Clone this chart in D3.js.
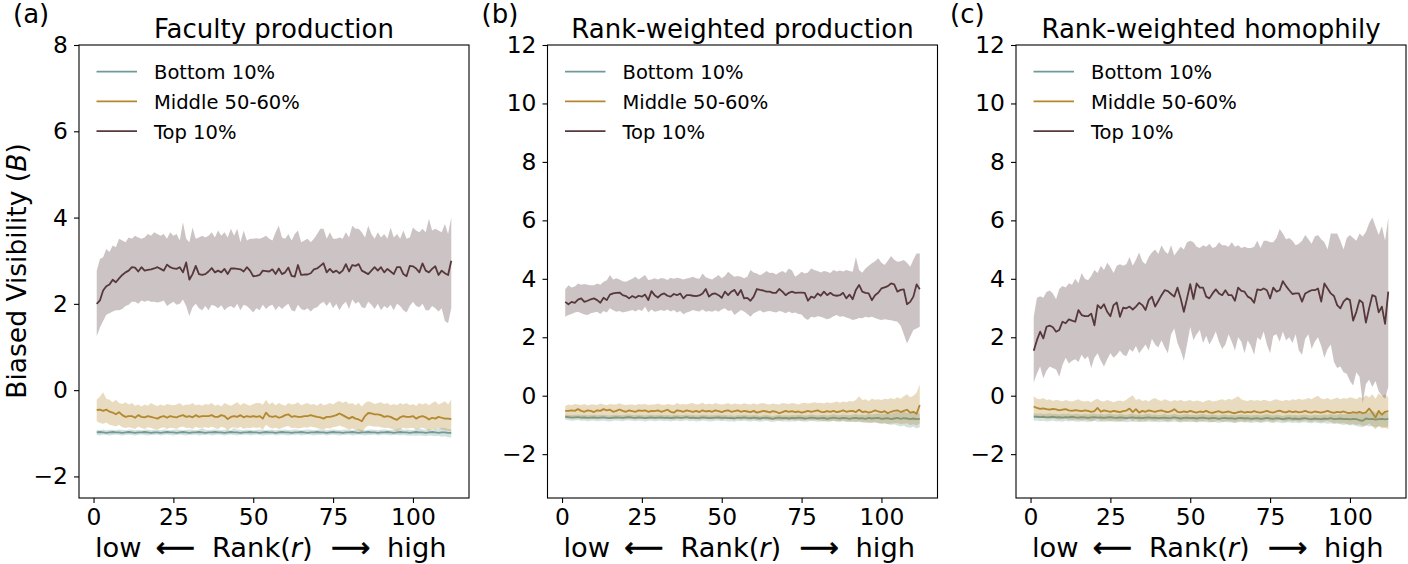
<!DOCTYPE html>
<html>
<head>
<meta charset="utf-8">
<script src="https://cdn.jsdelivr.net/npm/d3@7"></script>
<style>
html,body{margin:0;padding:0;background:#fff;}
svg{display:block;}
</style>
</head>
<body>
<svg id="chart" width="1408" height="564"></svg>
<script>
// ---------- DATA ----------
const seriesNames = ["Bottom 10%", "Middle 50-60%", "Top 10%"];
const panelTitles = ["Faculty production", "Rank-weighted production", "Rank-weighted homophily"];
const panelLabels = ["(a)", "(b)", "(c)"];
const xTicks = [0, 25, 50, 75, 100];
const yTicksA = [-2, 0, 2, 4, 6, 8];
const yTicksBC = [-2, 0, 2, 4, 6, 8, 10, 12];
const ranks = d3.range(1, 113);

// Panel (a) Faculty production
const aTopMean = [2.00,2.08,2.31,2.41,2.45,2.56,2.50,2.59,2.67,2.73,
2.77,2.85,2.84,2.75,2.85,2.77,2.79,2.80,2.82,2.85,
2.81,2.77,2.91,2.85,2.82,2.81,2.85,2.73,2.96,2.56,
2.69,2.88,2.69,2.67,2.69,2.75,2.83,2.73,2.77,2.73,
2.81,2.69,2.82,2.82,2.81,2.80,2.75,2.85,2.77,2.64,
2.65,2.67,2.77,2.76,2.75,2.80,2.69,2.82,2.69,2.73,
2.84,2.65,2.63,2.90,2.67,2.68,2.68,2.71,2.80,2.82,
2.88,2.94,2.73,2.81,2.73,2.77,2.71,2.77,2.92,2.75,
2.90,2.88,2.92,2.77,2.73,2.69,2.77,2.85,2.77,2.85,
2.73,2.81,2.75,2.69,2.85,2.85,2.69,2.64,2.88,2.87,
2.82,2.73,2.94,2.77,2.73,2.81,2.87,2.67,2.77,2.71,
2.67,3.00];
const aTopHi = [2.77,3.04,3.08,3.27,3.20,3.35,3.31,3.51,3.47,3.43,
3.54,3.51,3.58,3.54,3.51,3.54,3.62,3.58,3.66,3.62,
3.58,3.62,3.51,3.66,3.58,3.62,3.47,3.89,3.51,3.43,
3.77,3.51,3.54,3.58,3.54,3.58,3.66,3.54,3.70,3.58,
3.66,3.54,3.74,3.58,3.74,3.43,3.70,3.47,3.51,3.51,
3.52,3.51,3.54,3.58,3.51,3.47,3.66,3.81,3.54,3.51,
3.62,3.47,3.62,3.70,3.43,3.47,3.51,3.43,3.51,3.62,
3.74,3.74,3.51,3.66,3.51,3.51,3.54,3.51,3.66,3.54,
3.81,3.74,3.74,3.66,3.54,3.81,3.62,3.51,3.66,3.54,
3.62,3.51,3.77,3.54,3.62,3.51,3.70,3.51,3.54,3.77,
3.70,3.66,3.74,3.66,3.97,3.70,3.74,3.70,3.66,3.85,
3.62,4.01];
const aTopLo = [1.25,1.45,1.60,1.75,1.78,1.82,1.85,1.85,1.88,1.95,
1.98,2.05,2.05,2.00,2.08,2.05,2.08,2.05,2.05,2.03,
2.05,2.08,1.95,2.00,2.05,1.98,2.00,2.10,1.95,1.72,
1.92,2.00,1.90,1.85,1.95,1.85,1.98,1.95,1.90,1.97,
1.85,1.92,1.95,1.90,2.00,1.85,1.98,1.95,1.88,1.80,
1.90,1.85,1.98,1.88,1.95,1.98,1.85,1.95,1.88,1.95,
2.00,1.85,1.82,1.98,1.88,1.85,1.90,1.82,1.90,1.92,
2.00,2.05,1.95,2.05,1.90,2.00,1.85,1.98,2.05,1.88,
2.10,2.00,2.05,1.92,1.90,2.05,1.98,1.88,2.00,1.85,
1.95,1.90,1.98,1.85,2.00,1.95,1.85,1.80,1.95,2.05,
1.95,1.92,2.00,1.85,1.85,1.95,1.90,1.82,1.90,1.60,
1.55,1.90];
const aMidMean = [-0.46,-0.45,-0.48,-0.45,-0.50,-0.52,-0.56,-0.51,-0.58,-0.62,
-0.60,-0.60,-0.64,-0.58,-0.62,-0.63,-0.60,-0.62,-0.64,-0.66,
-0.62,-0.60,-0.64,-0.60,-0.62,-0.63,-0.60,-0.58,-0.62,-0.60,
-0.63,-0.58,-0.62,-0.60,-0.60,-0.60,-0.58,-0.62,-0.62,-0.58,
-0.60,-0.67,-0.62,-0.60,-0.62,-0.58,-0.63,-0.60,-0.62,-0.60,
-0.62,-0.60,-0.66,-0.52,-0.60,-0.62,-0.60,-0.64,-0.62,-0.58,
-0.56,-0.62,-0.60,-0.62,-0.62,-0.60,-0.60,-0.58,-0.60,-0.62,
-0.63,-0.66,-0.62,-0.62,-0.60,-0.58,-0.54,-0.58,-0.62,-0.66,
-0.62,-0.66,-0.68,-0.72,-0.60,-0.53,-0.54,-0.56,-0.56,-0.58,
-0.62,-0.60,-0.62,-0.66,-0.69,-0.63,-0.60,-0.62,-0.62,-0.60,
-0.66,-0.62,-0.60,-0.63,-0.68,-0.64,-0.66,-0.62,-0.64,-0.66,
-0.66,-0.67];
const aMidHi = [-0.22,-0.15,-0.05,-0.20,-0.22,-0.28,-0.22,-0.30,-0.32,-0.28,
-0.33,-0.30,-0.36,-0.33,-0.38,-0.33,-0.36,-0.30,-0.34,-0.37,
-0.33,-0.36,-0.32,-0.34,-0.35,-0.33,-0.30,-0.36,-0.33,-0.34,
-0.30,-0.35,-0.33,-0.36,-0.32,-0.34,-0.30,-0.36,-0.33,-0.38,
-0.30,-0.33,-0.36,-0.32,-0.28,-0.35,-0.30,-0.33,-0.36,-0.32,
-0.30,-0.30,-0.34,-0.22,-0.33,-0.28,-0.35,-0.30,-0.33,-0.36,
-0.30,-0.33,-0.32,-0.28,-0.35,-0.32,-0.30,-0.34,-0.32,-0.36,
-0.30,-0.35,-0.33,-0.30,-0.33,-0.28,-0.25,-0.30,-0.26,-0.32,
-0.30,-0.35,-0.30,-0.38,-0.30,-0.26,-0.28,-0.32,-0.30,-0.28,
-0.32,-0.30,-0.35,-0.32,-0.35,-0.30,-0.33,-0.30,-0.35,-0.32,
-0.36,-0.30,-0.33,-0.30,-0.35,-0.30,-0.26,-0.33,-0.30,-0.26,
-0.33,-0.22];
const aMidLo = [-0.72,-0.76,-0.78,-0.75,-0.80,-0.82,-0.84,-0.80,-0.86,-0.88,
-0.86,-0.88,-0.90,-0.85,-0.88,-0.90,-0.86,-0.88,-0.90,-0.92,
-0.88,-0.86,-0.90,-0.87,-0.88,-0.90,-0.86,-0.84,-0.88,-0.87,
-0.90,-0.85,-0.88,-0.87,-0.86,-0.88,-0.84,-0.88,-0.90,-0.85,
-0.87,-0.93,-0.88,-0.86,-0.89,-0.85,-0.90,-0.87,-0.88,-0.86,
-0.88,-0.86,-0.92,-0.80,-0.86,-0.89,-0.87,-0.90,-0.88,-0.85,
-0.83,-0.88,-0.87,-0.89,-0.88,-0.86,-0.87,-0.84,-0.86,-0.88,
-0.90,-0.92,-0.88,-0.89,-0.86,-0.85,-0.82,-0.85,-0.88,-0.92,
-0.89,-0.92,-0.94,-0.98,-0.88,-0.82,-0.83,-0.85,-0.84,-0.86,
-0.88,-0.87,-0.89,-0.92,-0.95,-0.90,-0.87,-0.89,-0.88,-0.87,
-0.92,-0.88,-0.87,-0.90,-0.94,-0.90,-0.93,-0.88,-0.91,-0.93,
-0.94,-0.96];
const aBotMean = [-0.98,-0.97,-0.98,-0.99,-0.98,-0.97,-0.98,-0.98,-0.99,-0.98,
-0.97,-0.98,-0.99,-0.98,-0.98,-0.97,-0.98,-0.99,-0.98,-0.98,
-0.99,-0.98,-0.97,-0.98,-0.98,-0.99,-0.98,-0.97,-0.98,-0.99,
-0.98,-0.98,-0.97,-0.98,-0.99,-0.98,-0.98,-0.97,-0.98,-0.98,
-0.99,-0.98,-0.97,-0.98,-0.98,-0.99,-0.98,-0.98,-0.97,-0.98,
-0.98,-0.99,-0.98,-0.97,-0.98,-0.98,-0.99,-0.98,-0.97,-0.98,
-0.98,-0.99,-0.98,-0.98,-0.97,-0.98,-0.99,-0.98,-0.98,-0.97,
-0.98,-0.98,-0.99,-0.98,-0.97,-0.98,-0.98,-0.99,-0.98,-0.98,
-0.97,-0.98,-0.99,-0.98,-0.98,-0.97,-0.98,-0.98,-0.99,-0.98,
-0.98,-0.97,-0.98,-0.99,-0.98,-0.97,-0.98,-0.98,-0.99,-0.98,
-0.97,-0.98,-0.98,-0.99,-0.98,-0.97,-0.98,-0.99,-0.98,-0.98,
-0.99,-0.99];
const aBotHi = [-0.92,-0.93,-0.91,-0.93,-0.92,-0.92,-0.93,-0.91,-0.92,-0.93,
-0.92,-0.91,-0.93,-0.92,-0.93,-0.92,-0.91,-0.93,-0.92,-0.92,
-0.93,-0.91,-0.92,-0.93,-0.92,-0.91,-0.92,-0.93,-0.92,-0.91,
-0.92,-0.93,-0.92,-0.88,-0.92,-0.93,-0.92,-0.91,-0.92,-0.93,
-0.92,-0.91,-0.93,-0.88,-0.92,-0.92,-0.93,-0.91,-0.92,-0.93,
-0.92,-0.91,-0.92,-0.93,-0.92,-0.91,-0.93,-0.92,-0.92,-0.91,
-0.93,-0.92,-0.91,-0.92,-0.93,-0.92,-0.91,-0.92,-0.93,-0.92,
-0.91,-0.92,-0.93,-0.92,-0.91,-0.92,-0.93,-0.92,-0.91,-0.92,
-0.93,-0.92,-0.91,-0.92,-0.93,-0.92,-0.91,-0.92,-0.93,-0.92,
-0.91,-0.92,-0.93,-0.92,-0.91,-0.88,-0.92,-0.91,-0.92,-0.93,
-0.90,-0.88,-0.91,-0.92,-0.90,-0.91,-0.92,-0.89,-0.87,-0.88,
-0.90,-0.91];
const aBotLo = [-1.04,-1.05,-1.03,-1.04,-1.05,-1.04,-1.03,-1.04,-1.05,-1.04,
-1.03,-1.04,-1.05,-1.04,-1.03,-1.04,-1.05,-1.04,-1.04,-1.03,
-1.05,-1.04,-1.03,-1.04,-1.05,-1.04,-1.03,-1.04,-1.05,-1.04,
-1.04,-1.03,-1.05,-1.04,-1.04,-1.03,-1.05,-1.04,-1.03,-1.04,
-1.05,-1.04,-1.03,-1.04,-1.05,-1.04,-1.04,-1.03,-1.05,-1.04,
-1.03,-1.04,-1.05,-1.04,-1.04,-1.03,-1.05,-1.04,-1.03,-1.04,
-1.05,-1.04,-1.04,-1.03,-1.05,-1.04,-1.03,-1.04,-1.05,-1.04,
-1.04,-1.03,-1.05,-1.04,-1.03,-1.04,-1.05,-1.04,-1.04,-1.03,
-1.05,-1.04,-1.03,-1.04,-1.05,-1.04,-1.04,-1.03,-1.05,-1.04,
-1.03,-1.04,-1.05,-1.04,-1.04,-1.05,-1.04,-1.05,-1.06,-1.05,
-1.06,-1.05,-1.06,-1.07,-1.05,-1.06,-1.07,-1.06,-1.08,-1.07,
-1.09,-1.10];

// Panel (b) Rank-weighted production
const bTopMean = [3.21,3.13,3.21,3.18,3.29,3.33,3.21,3.25,3.30,3.33,
3.27,3.18,3.35,3.27,3.46,3.50,3.52,3.53,3.44,3.41,
3.33,3.41,3.35,3.42,3.39,3.46,3.27,3.58,3.44,3.36,
3.46,3.50,3.42,3.39,3.48,3.44,3.50,3.33,3.44,3.44,
3.42,3.41,3.43,3.50,3.65,3.39,3.48,3.50,3.44,3.35,
3.56,3.44,3.56,3.62,3.44,3.62,3.33,3.35,3.25,3.39,
3.65,3.62,3.60,3.56,3.56,3.52,3.52,3.65,3.56,3.44,
3.52,3.56,3.52,3.53,3.53,3.52,3.25,3.39,3.35,3.50,
3.42,3.56,3.44,3.52,3.44,3.42,3.44,3.52,3.33,3.46,
3.30,3.62,3.79,3.56,3.52,3.50,3.27,3.44,3.52,3.67,
3.71,3.75,3.84,3.81,3.56,3.62,3.64,3.13,3.21,3.39,
3.81,3.64];
const bTopHi = [3.64,3.78,3.70,3.74,3.84,3.80,3.82,3.80,3.78,3.78,
3.84,3.80,3.90,3.95,4.13,3.98,4.02,3.98,3.92,3.90,
3.95,4.00,4.07,3.98,4.05,4.13,3.96,3.98,4.02,3.98,
4.03,4.01,3.96,4.04,4.00,4.04,4.01,3.98,4.01,4.04,
4.07,4.02,4.00,4.18,4.05,4.01,3.98,4.05,4.13,4.02,
4.10,4.24,4.15,4.07,4.10,4.07,4.02,4.07,4.30,4.22,
4.18,4.12,4.18,4.27,4.20,4.21,4.15,4.22,4.27,4.20,
4.35,4.28,4.07,4.15,4.24,4.18,4.22,4.35,4.30,4.27,
4.22,4.27,4.24,4.20,4.30,4.25,4.28,4.25,4.30,4.27,
4.24,4.75,4.30,4.21,4.35,4.45,4.53,4.60,4.70,4.55,
4.47,4.62,4.78,4.65,4.58,4.60,4.64,4.55,4.41,4.65,
4.87,4.87];
const bTopLo = [2.70,2.76,2.80,2.85,2.87,2.82,2.78,2.76,2.82,2.85,
2.87,2.80,2.90,2.85,2.99,2.92,2.87,2.90,2.85,2.87,
2.90,2.93,2.88,2.95,2.90,3.04,2.85,2.95,2.87,2.90,
2.93,2.90,2.95,2.88,2.93,2.85,2.90,2.79,2.85,2.88,
2.93,2.90,2.88,2.95,2.87,2.90,2.87,2.92,2.87,2.95,
2.99,2.90,2.92,2.76,2.85,2.93,2.88,2.80,2.70,2.82,
2.87,2.92,2.85,2.88,2.90,2.87,2.85,2.90,2.87,2.82,
2.88,2.82,2.85,2.80,2.78,2.65,2.59,2.70,2.68,2.72,
2.70,2.66,2.62,2.65,2.72,2.76,2.70,2.72,2.68,2.64,
2.59,2.62,2.66,2.65,2.70,2.68,2.70,2.66,2.62,2.59,
2.62,2.60,2.58,2.56,2.53,2.40,2.10,1.79,2.02,2.25,
2.30,2.36];
const bMidMean = [-0.52,-0.52,-0.50,-0.52,-0.46,-0.52,-0.55,-0.50,-0.52,-0.56,
-0.50,-0.52,-0.46,-0.50,-0.48,-0.55,-0.52,-0.47,-0.52,-0.55,
-0.50,-0.53,-0.55,-0.50,-0.52,-0.50,-0.55,-0.52,-0.53,-0.50,
-0.55,-0.52,-0.48,-0.55,-0.58,-0.50,-0.52,-0.55,-0.50,-0.53,
-0.55,-0.52,-0.56,-0.50,-0.54,-0.52,-0.55,-0.50,-0.53,-0.56,
-0.52,-0.50,-0.55,-0.53,-0.50,-0.55,-0.52,-0.54,-0.56,-0.52,
-0.58,-0.55,-0.52,-0.54,-0.57,-0.53,-0.55,-0.60,-0.56,-0.52,
-0.55,-0.53,-0.56,-0.54,-0.58,-0.55,-0.52,-0.55,-0.53,-0.50,
-0.55,-0.56,-0.53,-0.55,-0.52,-0.56,-0.54,-0.50,-0.55,-0.53,
-0.52,-0.56,-0.48,-0.56,-0.54,-0.58,-0.55,-0.50,-0.54,-0.57,
-0.53,-0.60,-0.55,-0.52,-0.50,-0.56,-0.52,-0.48,-0.58,-0.55,
-0.62,-0.32];
const bMidHi = [-0.35,-0.30,-0.33,-0.28,-0.30,-0.32,-0.28,-0.33,-0.30,-0.30,
-0.32,-0.27,-0.30,-0.33,-0.28,-0.30,-0.30,-0.26,-0.30,-0.32,
-0.30,-0.30,-0.33,-0.28,-0.30,-0.28,-0.32,-0.30,-0.30,-0.27,
-0.30,-0.32,-0.28,-0.30,-0.32,-0.25,-0.30,-0.28,-0.30,-0.27,
-0.25,-0.30,-0.28,-0.24,-0.30,-0.27,-0.30,-0.25,-0.28,-0.30,
-0.28,-0.25,-0.30,-0.27,-0.28,-0.30,-0.26,-0.28,-0.30,-0.26,
-0.30,-0.27,-0.25,-0.28,-0.30,-0.27,-0.28,-0.30,-0.25,-0.27,
-0.28,-0.25,-0.27,-0.30,-0.26,-0.24,-0.27,-0.25,-0.22,-0.25,
-0.24,-0.27,-0.22,-0.25,-0.23,-0.20,-0.24,-0.20,-0.22,-0.18,
-0.20,-0.15,-0.02,-0.15,-0.12,-0.18,-0.10,-0.14,-0.12,-0.15,
-0.10,-0.12,-0.08,-0.12,-0.05,-0.10,-0.02,0.05,-0.05,0.00,
0.10,0.38];
const bMidLo = [-0.75,-0.78,-0.76,-0.78,-0.74,-0.78,-0.80,-0.76,-0.78,-0.80,
-0.76,-0.78,-0.74,-0.77,-0.76,-0.80,-0.78,-0.75,-0.78,-0.80,
-0.77,-0.79,-0.80,-0.77,-0.78,-0.76,-0.80,-0.78,-0.79,-0.77,
-0.80,-0.78,-0.75,-0.80,-0.82,-0.77,-0.78,-0.80,-0.77,-0.79,
-0.80,-0.79,-0.82,-0.78,-0.80,-0.79,-0.81,-0.78,-0.80,-0.82,
-0.79,-0.78,-0.81,-0.80,-0.78,-0.82,-0.80,-0.81,-0.83,-0.80,
-0.84,-0.82,-0.80,-0.82,-0.84,-0.81,-0.83,-0.86,-0.84,-0.81,
-0.83,-0.82,-0.85,-0.83,-0.86,-0.84,-0.82,-0.85,-0.84,-0.82,
-0.86,-0.87,-0.85,-0.87,-0.85,-0.88,-0.87,-0.85,-0.89,-0.88,
-0.88,-0.91,-0.86,-0.92,-0.91,-0.94,-0.92,-0.90,-0.93,-0.95,
-0.93,-0.97,-0.95,-0.94,-0.93,-0.97,-0.96,-0.94,-1.00,-0.98,
-1.02,-0.95];
const bBotMean = [-0.72,-0.73,-0.75,-0.74,-0.73,-0.75,-0.74,-0.76,-0.75,-0.74,
-0.76,-0.75,-0.74,-0.76,-0.77,-0.75,-0.74,-0.75,-0.76,-0.74,
-0.73,-0.75,-0.76,-0.74,-0.75,-0.77,-0.75,-0.74,-0.76,-0.75,
-0.74,-0.76,-0.75,-0.77,-0.75,-0.74,-0.76,-0.75,-0.73,-0.76,
-0.75,-0.77,-0.76,-0.74,-0.75,-0.77,-0.76,-0.75,-0.74,-0.76,
-0.75,-0.77,-0.76,-0.78,-0.75,-0.76,-0.74,-0.76,-0.77,-0.75,
-0.76,-0.78,-0.76,-0.75,-0.77,-0.79,-0.76,-0.75,-0.77,-0.76,
-0.78,-0.76,-0.77,-0.75,-0.76,-0.78,-0.77,-0.75,-0.76,-0.78,
-0.77,-0.76,-0.79,-0.77,-0.75,-0.77,-0.78,-0.76,-0.77,-0.79,
-0.77,-0.76,-0.78,-0.77,-0.79,-0.76,-0.78,-0.77,-0.76,-0.79,
-0.78,-0.77,-0.80,-0.78,-0.76,-0.79,-0.77,-0.78,-0.80,-0.78,
-0.80,-0.79];
const bBotHi = [-0.64,-0.65,-0.66,-0.65,-0.64,-0.66,-0.65,-0.67,-0.66,-0.65,
-0.67,-0.66,-0.65,-0.67,-0.68,-0.66,-0.65,-0.66,-0.67,-0.65,
-0.64,-0.66,-0.67,-0.65,-0.66,-0.68,-0.66,-0.65,-0.67,-0.66,
-0.65,-0.67,-0.66,-0.68,-0.66,-0.65,-0.67,-0.66,-0.64,-0.67,
-0.66,-0.68,-0.67,-0.65,-0.66,-0.68,-0.67,-0.66,-0.65,-0.67,
-0.66,-0.68,-0.67,-0.69,-0.66,-0.67,-0.65,-0.67,-0.68,-0.66,
-0.67,-0.69,-0.67,-0.66,-0.68,-0.70,-0.67,-0.66,-0.68,-0.67,
-0.68,-0.66,-0.67,-0.65,-0.66,-0.68,-0.67,-0.64,-0.66,-0.68,
-0.66,-0.65,-0.68,-0.66,-0.63,-0.66,-0.67,-0.64,-0.66,-0.67,
-0.65,-0.63,-0.66,-0.64,-0.66,-0.62,-0.65,-0.63,-0.61,-0.64,
-0.62,-0.60,-0.63,-0.58,-0.56,-0.60,-0.55,-0.58,-0.60,-0.57,
-0.58,-0.62];
const bBotLo = [-0.82,-0.84,-0.86,-0.85,-0.83,-0.86,-0.85,-0.87,-0.86,-0.85,
-0.87,-0.86,-0.85,-0.87,-0.88,-0.86,-0.85,-0.86,-0.87,-0.85,
-0.84,-0.86,-0.87,-0.85,-0.86,-0.88,-0.86,-0.85,-0.87,-0.86,
-0.85,-0.87,-0.86,-0.88,-0.86,-0.85,-0.87,-0.86,-0.84,-0.87,
-0.86,-0.88,-0.87,-0.85,-0.86,-0.88,-0.87,-0.86,-0.85,-0.87,
-0.86,-0.88,-0.87,-0.89,-0.86,-0.87,-0.85,-0.87,-0.88,-0.86,
-0.87,-0.89,-0.87,-0.86,-0.88,-0.90,-0.87,-0.86,-0.88,-0.87,
-0.89,-0.87,-0.88,-0.86,-0.87,-0.89,-0.88,-0.86,-0.87,-0.89,
-0.88,-0.87,-0.90,-0.88,-0.86,-0.88,-0.89,-0.87,-0.88,-0.90,
-0.89,-0.88,-0.91,-0.90,-0.92,-0.90,-0.93,-0.92,-0.94,-0.96,
-0.95,-0.98,-1.00,-0.98,-1.02,-1.05,-1.03,-1.08,-1.10,-1.06,
-1.12,-1.08];

// Panel (c) Rank-weighted homophily
const cTopMean = [1.54,1.90,2.19,1.96,2.36,2.40,2.34,2.19,2.25,2.53,
2.48,2.61,2.57,2.53,2.93,2.76,2.72,2.72,2.81,2.41,
3.10,2.99,3.13,2.87,2.72,3.10,3.19,2.70,3.01,2.99,
3.05,2.95,3.05,3.18,3.10,2.93,3.27,3.39,3.05,3.24,
3.44,3.61,3.58,3.48,3.39,3.70,3.33,2.87,3.33,3.82,
3.31,3.84,3.70,3.70,3.39,3.33,3.50,3.64,3.50,3.44,
3.61,3.44,3.44,3.25,3.70,3.59,3.56,3.39,3.33,3.18,
3.64,3.61,3.67,3.61,3.33,3.70,3.56,3.61,3.92,3.75,
3.61,3.48,3.50,3.50,3.22,3.50,3.56,3.61,3.61,3.67,
3.22,3.84,3.67,3.50,3.41,3.10,2.99,3.22,3.33,3.27,
2.57,2.87,3.27,3.18,2.50,2.99,3.44,3.39,2.85,3.05,
2.46,3.56];
const cTopHi = [2.70,3.35,3.40,3.35,3.55,3.60,3.50,3.30,3.65,3.75,
3.70,3.85,3.80,4.00,3.85,4.20,4.00,3.95,4.10,4.30,
4.20,4.45,4.30,4.55,4.40,4.20,4.45,4.50,4.45,4.50,
4.75,4.45,4.65,4.90,4.60,4.50,4.75,4.90,5.00,4.85,
5.15,4.95,4.85,5.15,4.80,4.95,5.10,5.00,5.25,5.30,
5.25,5.10,5.05,5.15,5.10,5.20,5.05,5.10,5.25,5.15,
5.15,5.10,5.25,5.10,5.15,5.05,5.10,5.05,5.05,5.10,
5.30,5.05,5.30,5.30,5.25,5.25,5.40,5.70,5.55,5.35,
5.40,5.30,5.15,5.20,5.30,5.50,5.35,5.20,5.45,5.50,
5.35,5.25,5.00,5.55,5.55,5.55,5.30,5.00,5.40,5.50,
5.40,5.30,5.55,5.45,5.60,5.90,6.10,5.80,5.50,5.80,
5.30,6.10];
const cTopLo = [0.45,0.75,1.00,0.60,0.85,1.00,0.95,0.90,0.65,1.05,
1.30,1.10,1.20,1.25,1.15,1.40,1.25,1.35,0.95,1.30,
1.45,1.20,1.00,1.25,1.45,1.30,1.40,1.55,1.40,1.35,
1.60,1.50,1.70,1.45,1.60,1.75,1.55,1.95,1.75,1.65,
1.90,1.65,1.45,2.10,2.30,1.80,1.55,1.20,1.75,2.35,
1.90,2.10,2.25,1.80,2.05,1.75,1.95,2.20,1.85,1.60,
1.75,2.10,1.85,1.55,2.00,1.85,1.45,1.90,1.70,1.40,
2.00,1.90,2.20,1.75,1.45,2.05,2.10,1.85,2.20,1.90,
2.00,1.80,2.10,1.55,1.40,1.95,2.10,1.60,1.85,2.00,
1.70,1.30,1.60,1.75,1.15,0.95,1.00,0.80,0.75,0.50,
0.35,0.80,0.65,-0.25,0.40,0.55,0.30,0.50,0.15,0.00,
-0.10,0.30];
const cMidMean = [-0.37,-0.42,-0.45,-0.43,-0.46,-0.48,-0.45,-0.47,-0.50,-0.48,
-0.46,-0.50,-0.52,-0.49,-0.51,-0.53,-0.50,-0.52,-0.55,-0.53,
-0.42,-0.55,-0.50,-0.53,-0.55,-0.52,-0.54,-0.56,-0.53,-0.51,
-0.44,-0.56,-0.46,-0.58,-0.52,-0.55,-0.50,-0.53,-0.55,-0.52,
-0.50,-0.54,-0.56,-0.53,-0.46,-0.55,-0.57,-0.54,-0.56,-0.52,
-0.55,-0.58,-0.54,-0.56,-0.52,-0.57,-0.59,-0.55,-0.53,-0.58,
-0.56,-0.54,-0.58,-0.60,-0.56,-0.54,-0.58,-0.55,-0.57,-0.53,
-0.56,-0.58,-0.55,-0.52,-0.56,-0.58,-0.54,-0.51,-0.55,-0.57,
-0.53,-0.56,-0.54,-0.57,-0.55,-0.52,-0.56,-0.58,-0.54,-0.56,
-0.58,-0.55,-0.52,-0.56,-0.59,-0.55,-0.57,-0.54,-0.58,-0.60,
-0.56,-0.59,-0.55,-0.60,-0.57,-0.44,-0.58,-0.75,-0.52,-0.65,
-0.55,-0.53];
const cMidHi = [-0.02,-0.10,-0.12,-0.08,-0.15,-0.12,-0.18,-0.14,-0.16,-0.20,
-0.15,-0.18,-0.20,-0.16,-0.12,-0.18,-0.20,-0.17,-0.22,-0.15,
-0.10,-0.18,-0.20,-0.15,-0.18,-0.22,-0.18,-0.16,-0.20,-0.14,
-0.05,0.02,-0.15,-0.10,-0.18,-0.15,-0.20,-0.12,-0.08,-0.15,
-0.18,-0.12,-0.16,-0.20,-0.15,-0.18,-0.14,-0.20,-0.17,-0.15,
-0.20,-0.16,-0.18,-0.22,-0.17,-0.15,-0.20,-0.18,-0.15,-0.12,
-0.16,-0.10,-0.14,-0.08,-0.02,-0.12,-0.16,-0.18,-0.14,-0.17,
-0.15,-0.18,-0.14,-0.16,-0.20,-0.15,-0.12,-0.16,-0.18,-0.14,
-0.17,-0.12,-0.15,-0.10,-0.14,-0.12,-0.08,-0.12,-0.05,0.00,
-0.10,-0.12,-0.08,-0.14,-0.10,-0.06,-0.12,-0.08,-0.10,-0.05,
-0.08,-0.12,-0.04,-0.08,0.02,-0.06,0.05,-0.10,0.08,-0.02,
0.05,-0.05];
const cMidLo = [-0.70,-0.74,-0.76,-0.75,-0.78,-0.80,-0.77,-0.79,-0.82,-0.80,
-0.78,-0.82,-0.84,-0.81,-0.83,-0.85,-0.82,-0.84,-0.87,-0.85,
-0.76,-0.87,-0.83,-0.85,-0.87,-0.84,-0.86,-0.88,-0.85,-0.83,
-0.78,-0.88,-0.80,-0.90,-0.84,-0.87,-0.82,-0.85,-0.87,-0.84,
-0.83,-0.86,-0.88,-0.85,-0.80,-0.87,-0.89,-0.86,-0.88,-0.84,
-0.87,-0.90,-0.86,-0.88,-0.84,-0.89,-0.91,-0.87,-0.85,-0.90,
-0.88,-0.86,-0.90,-0.92,-0.88,-0.86,-0.90,-0.87,-0.89,-0.85,
-0.88,-0.90,-0.87,-0.84,-0.88,-0.90,-0.86,-0.83,-0.87,-0.89,
-0.85,-0.88,-0.86,-0.89,-0.87,-0.84,-0.88,-0.90,-0.86,-0.88,
-0.91,-0.88,-0.86,-0.90,-0.94,-0.92,-0.95,-0.93,-0.97,-0.99,
-0.96,-1.00,-0.98,-1.04,-1.02,-0.95,-1.05,-1.15,-1.02,-1.12,
-1.10,-1.15];
const cBotMean = [-0.72,-0.72,-0.73,-0.72,-0.74,-0.73,-0.72,-0.74,-0.73,-0.75,
-0.73,-0.74,-0.72,-0.74,-0.75,-0.73,-0.74,-0.76,-0.74,-0.73,
-0.75,-0.74,-0.76,-0.74,-0.73,-0.75,-0.76,-0.74,-0.75,-0.77,
-0.75,-0.74,-0.76,-0.75,-0.77,-0.75,-0.74,-0.76,-0.75,-0.77,
-0.76,-0.75,-0.77,-0.76,-0.74,-0.76,-0.78,-0.76,-0.75,-0.77,
-0.76,-0.78,-0.76,-0.75,-0.77,-0.78,-0.76,-0.77,-0.79,-0.77,
-0.76,-0.78,-0.77,-0.79,-0.77,-0.76,-0.78,-0.77,-0.79,-0.78,
-0.77,-0.79,-0.78,-0.76,-0.78,-0.79,-0.77,-0.78,-0.80,-0.78,
-0.77,-0.79,-0.78,-0.80,-0.78,-0.77,-0.79,-0.80,-0.78,-0.79,
-0.80,-0.78,-0.79,-0.77,-0.80,-0.79,-0.78,-0.80,-0.79,-0.81,
-0.79,-0.80,-0.84,-0.86,-0.78,-0.80,-0.79,-0.82,-0.80,-0.79,
-0.81,-0.79];
const cBotHi = [-0.60,-0.62,-0.61,-0.63,-0.62,-0.60,-0.63,-0.62,-0.64,-0.62,
-0.63,-0.61,-0.64,-0.62,-0.63,-0.65,-0.62,-0.64,-0.63,-0.61,
-0.64,-0.62,-0.65,-0.63,-0.62,-0.64,-0.65,-0.63,-0.64,-0.66,
-0.63,-0.62,-0.65,-0.64,-0.66,-0.63,-0.62,-0.65,-0.64,-0.66,
-0.65,-0.63,-0.66,-0.65,-0.62,-0.65,-0.67,-0.64,-0.63,-0.66,
-0.65,-0.67,-0.64,-0.63,-0.66,-0.67,-0.64,-0.66,-0.68,-0.65,
-0.64,-0.67,-0.65,-0.68,-0.66,-0.64,-0.67,-0.65,-0.68,-0.66,
-0.65,-0.68,-0.66,-0.63,-0.66,-0.68,-0.65,-0.66,-0.69,-0.66,
-0.65,-0.67,-0.66,-0.68,-0.65,-0.64,-0.67,-0.68,-0.65,-0.66,
-0.67,-0.64,-0.66,-0.63,-0.66,-0.65,-0.62,-0.64,-0.63,-0.65,
-0.60,-0.62,-0.58,-0.55,-0.60,-0.57,-0.52,-0.58,-0.55,-0.60,
-0.58,-0.60];
const cBotLo = [-0.86,-0.85,-0.87,-0.86,-0.88,-0.87,-0.85,-0.88,-0.87,-0.89,
-0.86,-0.88,-0.86,-0.88,-0.89,-0.87,-0.88,-0.90,-0.88,-0.86,
-0.89,-0.88,-0.90,-0.88,-0.87,-0.89,-0.90,-0.88,-0.89,-0.91,
-0.89,-0.88,-0.90,-0.89,-0.91,-0.89,-0.88,-0.90,-0.89,-0.91,
-0.90,-0.89,-0.91,-0.90,-0.88,-0.90,-0.92,-0.90,-0.89,-0.91,
-0.90,-0.92,-0.90,-0.89,-0.91,-0.92,-0.90,-0.91,-0.93,-0.91,
-0.90,-0.92,-0.91,-0.93,-0.91,-0.90,-0.92,-0.91,-0.93,-0.92,
-0.91,-0.93,-0.92,-0.90,-0.92,-0.93,-0.91,-0.92,-0.94,-0.92,
-0.91,-0.93,-0.92,-0.94,-0.92,-0.91,-0.93,-0.94,-0.92,-0.93,
-0.95,-0.93,-0.96,-0.94,-0.97,-0.96,-0.98,-1.00,-0.98,-1.02,
-1.00,-1.04,-1.06,-1.08,-1.02,-1.05,-1.04,-1.08,-1.06,-1.05,
-1.08,-1.06];

// ---------- STYLE / LAYOUT ----------
const lineColors = ["#6f9b96", "#b3882e", "#57383c"];
const FONT = "'DejaVu Sans', sans-serif";
const plotTop = 45, plotBottom = 498;
const panels = [
  { left: 79, right: 469, yDomain: [-2.5, 8], yTicks: yTicksA,
    series: [[aBotMean, aBotLo, aBotHi], [aMidMean, aMidLo, aMidHi], [aTopMean, aTopLo, aTopHi]] },
  { left: 547.5, right: 937.5, yDomain: [-3.5, 12], yTicks: yTicksBC,
    series: [[bBotMean, bBotLo, bBotHi], [bMidMean, bMidLo, bMidHi], [bTopMean, bTopLo, bTopHi]] },
  { left: 1016, right: 1406, yDomain: [-3.5, 12], yTicks: yTicksBC,
    series: [[cBotMean, cBotLo, cBotHi], [cMidMean, cMidLo, cMidHi], [cTopMean, cTopLo, cTopHi]] }
];

const svg = d3.select("#chart");
const fmt = d => d < 0 ? "\u2212" + Math.abs(d) : String(d);

panels.forEach((p, pi) => {
  const x = d3.scaleLinear().domain([-4.55, 117.55]).range([p.left, p.right]);
  const y = d3.scaleLinear().domain(p.yDomain).range([plotBottom, plotTop]);
  const g = svg.append("g");
  const clipId = "clip" + pi;
  svg.append("clipPath").attr("id", clipId).append("rect")
    .attr("x", p.left).attr("y", plotTop).attr("width", p.right - p.left).attr("height", plotBottom - plotTop);
  const plot = g.append("g").attr("clip-path", `url(#${clipId})`);

  p.series.forEach((s, si) => {
    const [mean, lo, hi] = s;
    const rows = ranks.map((r, i) => ({ r, m: mean[i], lo: lo[i], hi: hi[i] }));
    plot.append("path").datum(rows)
      .attr("fill", "none").attr("stroke", lineColors[si]).attr("stroke-width", 1.8)
      .attr("stroke-linejoin", "round")
      .attr("d", d3.line().x(d => x(d.r)).y(d => y(d.m)));
    plot.append("path").datum(rows)
      .attr("fill", lineColors[si]).attr("fill-opacity", 0.3).attr("stroke", "none")
      .attr("d", d3.area().x(d => x(d.r)).y0(d => y(d.lo)).y1(d => y(d.hi)));
  });

  // axes
  const yAxis = g.append("g").attr("transform", `translate(${p.left},0)`)
    .call(d3.axisLeft(y).tickValues(p.yTicks).tickFormat(fmt).tickSize(5).tickPadding(6).tickSizeOuter(0));
  const xAxis = g.append("g").attr("transform", `translate(0,${plotBottom})`)
    .call(d3.axisBottom(x).tickValues(xTicks).tickFormat(fmt).tickSize(5).tickPadding(5).tickSizeOuter(0));
  [yAxis, xAxis].forEach(a => {
    a.select(".domain").remove();
    a.selectAll("line").attr("stroke", "#000").attr("stroke-width", 1.1);
    a.selectAll("text").attr("font-family", FONT).attr("font-size", 23.4).attr("fill", "#000");
  });

  // frame
  g.append("rect").attr("x", p.left).attr("y", plotTop)
    .attr("width", p.right - p.left).attr("height", plotBottom - plotTop)
    .attr("fill", "none").attr("stroke", "#000").attr("stroke-width", 1.1);

  const cx = (p.left + p.right) / 2;
  // title
  g.append("text").attr("x", cx).attr("y", 37.5).attr("text-anchor", "middle")
    .attr("font-family", FONT).attr("font-size", 26).text(panelTitles[pi]);
  // panel label
  g.append("text").attr("x", p.left - 66).attr("y", 23).attr("font-family", FONT)
    .attr("font-size", 26).text(panelLabels[pi]);

  // legend
  seriesNames.forEach((name, si) => {
    const ly = 71.7 + si * 29.7;
    g.append("line").attr("x1", p.left + 17.5).attr("x2", p.left + 58)
      .attr("y1", ly).attr("y2", ly).attr("stroke", lineColors[si]).attr("stroke-width", 1.8);
    g.append("text").attr("x", p.left + 75).attr("y", ly + 7.5)
      .attr("font-family", FONT).attr("font-size", 19.5).text(name);
  });

  // x label
  const xl = g.append("text").attr("y", 556.5).attr("font-family", FONT).attr("font-size", 27.3);
  const s0 = cx - 178;
  xl.append("tspan").attr("x", s0 - 1).text("low");
  xl.append("tspan").attr("x", s0 + 60).attr("stroke", "#000").attr("stroke-width", 0.7).text("\u27F5");
  xl.append("tspan").attr("x", s0 + 116).attr("stroke", "none").text("Rank(");
  xl.append("tspan").attr("font-style", "italic").text("r");
  xl.append("tspan").text(")");
  xl.append("tspan").attr("x", s0 + 235).attr("stroke", "#000").attr("stroke-width", 0.7).text("\u27F6");
  xl.append("tspan").attr("x", s0 + 291).attr("stroke", "none").text("high");
});

// y label
const ylab = svg.append("text").attr("transform", "translate(26,271) rotate(-90)")
  .attr("text-anchor", "middle").attr("font-family", FONT).attr("font-size", 26.5);
ylab.append("tspan").text("Biased Visibility (");
ylab.append("tspan").attr("font-style", "italic").text("B");
ylab.append("tspan").text(")");
</script>
</body>
</html>
